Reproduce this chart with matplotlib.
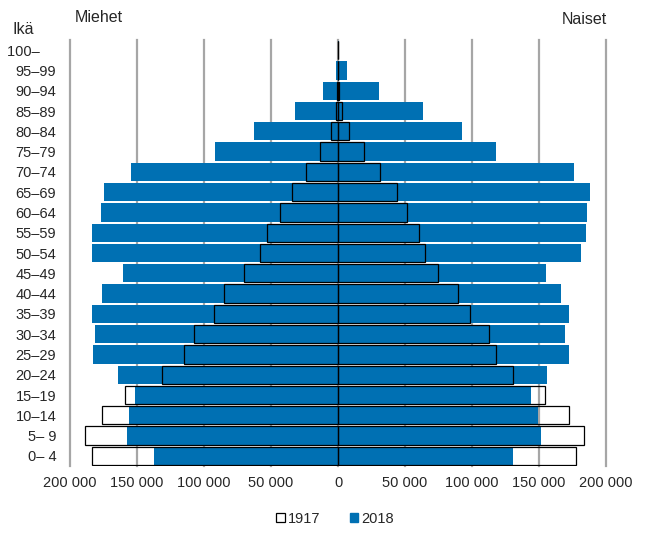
import matplotlib
matplotlib.use('Agg')
import matplotlib.pyplot as plt
from matplotlib.patches import Patch
from matplotlib.ticker import FuncFormatter
import numpy as np

plt.rcParams['font.family'] = ['Liberation Sans', 'DejaVu Sans']

age_groups = ["0– 4", "5– 9", "10–14", "15–19", "20–24", "25–29", "30–34",
              "35–39", "40–44", "45–49", "50–54", "55–59", "60–64", "65–69",
              "70–74", "75–79", "80–84", "85–89", "90–94", "95–99", "100–    "]

men_1917 = [183800, 189000, 175900, 158700, 131600, 114700, 107700, 92300, 84800,
            70100, 58500, 52700, 43000, 34100, 23600, 13200, 5200, 1500, 500, 100, 10]
men_2018 = [137100, 157700, 156200, 151700, 164200, 182600, 181100, 183300, 175900,
            160400, 183300, 183300, 176600, 174400, 154700, 91800, 62500, 32300, 11200, 1700, 200]
women_1917 = [177600, 183300, 172400, 154700, 130600, 118200, 112400, 98300, 89800,
              74900, 64700, 60700, 51500, 44300, 31100, 19200, 8400, 3200, 900, 150, 10]
women_2018 = [130800, 151200, 149500, 144000, 155700, 172400, 169700, 172400, 166700,
              155000, 181300, 185100, 185800, 187800, 176100, 117600, 92800, 63400, 30300, 6900, 800]

x_ticks = [-200000, -150000, -100000, -50000, 0, 50000, 100000, 150000, 200000]

blue = '#0070b3'
txt = '#262626'

fig = plt.figure(figsize=(6.67, 5.34), dpi=100)
ax = fig.add_axes([0.105, 0.1273, 0.8035, 0.7977])

y = np.arange(len(age_groups))
h = 0.9
ax.barh(y, -np.array(men_2018), height=h, color=blue, zorder=2)
ax.barh(y, women_2018, height=h, color=blue, zorder=2)
ax.barh(y, -np.array(men_1917), height=h, facecolor='none', edgecolor='black', linewidth=0.9, zorder=3)
ax.barh(y, women_1917, height=h, facecolor='none', edgecolor='black', linewidth=0.9, zorder=3)

ax.set_xlim(-200000, 200000)
ax.set_ylim(-0.5, len(age_groups) - 0.5)
ax.set_xticks(x_ticks)
ax.xaxis.set_major_formatter(FuncFormatter(lambda v, p: f"{abs(int(v)):,}".replace(",", " ")))
ax.set_yticks(y)
ax.set_yticklabels(age_groups)
ax.tick_params(axis='both', length=0, labelsize=10.5, colors=txt)
ax.tick_params(axis='y', pad=10)
ax.tick_params(axis='x', pad=7)
for s in ax.spines.values():
    s.set_visible(False)
ax.grid(axis='x', color='#a6a6a6', linewidth=1.6, zorder=0)
ax.set_axisbelow(True)
for gl in ax.get_xgridlines():
    gl.set_clip_on(False)

fig.text(13 / 667, 1 - 30 / 534, "Ikä", fontsize=11.5, color=txt, ha='left', va='center')
fig.text(75 / 667, 1 - 17 / 534, "Miehet", fontsize=11.5, color=txt, ha='left', va='center')
fig.text(607 / 667, 1 - 19 / 534, "Naiset", fontsize=11.5, color=txt, ha='right', va='center')

handles = [Patch(facecolor='white', edgecolor='black', linewidth=0.9, label='1917'),
           Patch(facecolor=blue, edgecolor=blue, label='2018')]
fig.legend(handles=handles, loc='center', bbox_to_anchor=(335 / 667, 1 - 519 / 534), ncol=2,
           frameon=False, fontsize=10.5, handlelength=0.6, handleheight=0.6,
           handletextpad=0.2, columnspacing=2.0, labelcolor=txt)

fig.savefig('out.png', dpi=100)
